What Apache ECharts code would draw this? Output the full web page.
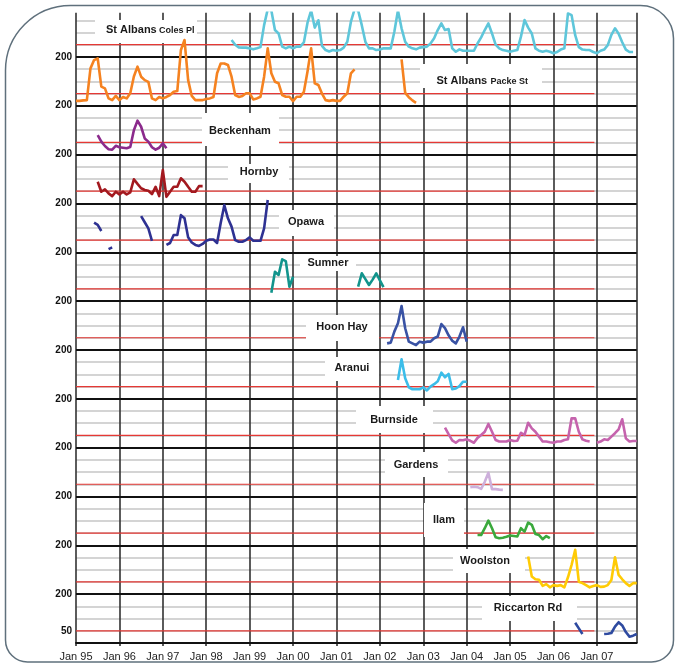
<!DOCTYPE html>
<html><head><meta charset="utf-8">
<script src="https://cdn.jsdelivr.net/npm/echarts@6/dist/echarts.min.js"></script>
<style>html,body{margin:0;padding:0;background:#fff}#c{width:679px;height:667px}</style>
</head><body><div id="c"></div>
<script>
// ---- tick labels ----
const xTickLabels = ['Jan 95','Jan 96','Jan 97','Jan 98','Jan 99','Jan 00','Jan 01','Jan 02','Jan 03','Jan 04','Jan 05','Jan 06','Jan 07'];
const panelTopLabel = '200';
const guideLabel = '50';
const panelMax = 200;
const guideline = 50;
const guidelineEndMonth = 143.3;   // month index (0 = Jan 95) where guideline stops
const lastMonth = 155;

// ---- sites (top to bottom) ----
const siteNames = ['St Albans Coles Pl','St Albans Packe St','Beckenham','Hornby','Opawa','Sumner','Hoon Hay','Aranui','Burnside','Gardens','Ilam','Woolston','Riccarton Rd'];
const siteColors = ['#5ec6da','#f58220','#8b2a8c','#a3191f','#2e3192','#12948c','#3952a4','#3cbde9','#c563ad','#cdb0db','#3aa93c','#ffcb05','#2e4aa0'];

// monthly values; start = month index of first value (0 = Jan 95); null = no data
const colesPlStart = 43;
const colesPl = [69,50,39,38,38,35,31,35,40,130,195,190,110,96,42,35,42,35,42,42,60,140,190,120,150,45,28,22,28,25,28,38,62,144,195,190,130,62,35,35,28,30,35,35,35,103,190,117,62,42,35,31,38,40,42,55,76,110,137,110,114,35,21,31,25,25,25,25,55,80,110,137,96,50,35,28,25,21,25,28,83,151,120,96,35,25,21,25,21,15,20,30,35,178,171,89,40,30,28,28,20,15,25,30,48,90,117,95,60,30,20,20];

const packeStStart = 0;
const packeSt = [20,20,22,23,153,187,194,78,71,30,23,40,23,36,30,51,120,160,119,105,98,30,23,36,30,36,44,57,60,228,269,105,40,23,23,23,28,30,36,133,173,173,167,119,44,36,40,51,51,26,30,37,119,235,133,98,92,44,37,37,19,37,37,57,140,235,92,85,50,23,20,23,20,20,37,51,133,149,
  null,null,null,null,null,null,null,null,null,null,null,null,190,53,35,22,12];

const beckenhamStart = 6;
const beckenham = [80,53,35,22,20,36,30,28,26,31,100,139,114,66,53,30,20,28,46,26];

const hornbyStart = 6;
const hornby = [89,48,58,41,30,48,37,48,37,45,99,80,62,55,52,38,68,30,137,27,48,68,68,103,89,68,48,48,71,71];

const opawaStart = 5;
const opawa = [121,112,87,null,13,20,null,null,null,null,null,null,null,148,123,98,47,null,null,null,30,38,71,71,152,139,61,40,30,26,34,47,52,52,38,120,193,139,105,50,43,43,50,61,47,47,47,98,214];

const sumnerStart = 54;
const sumner = [34,120,107,171,164,59,100,null,null,null,null,null,null,null,null,null,null,null,null,null,null,null,null,null,59,114,90,66,88,114,85,57];

const hoonHayStart = 86;
const hoonHay = [27,30,75,109,180,89,34,27,20,34,30,34,34,48,55,106,89,60,38,27,55,93,34];

const aranuiStart = 89;
const aranui = [77,162,84,47,39,39,39,47,34,50,60,72,107,88,102,39,42,52,70,70];

const burnsideStart = 102;
const burnside = [82,55,30,20,31,30,34,28,20,40,52,65,97,65,31,25,25,25,31,27,28,61,52,102,79,65,45,25,25,22,20,25,25,31,34,120,120,65,34,28,25,null,20,25,34,31,45,59,75,116,38,25,27,27];

const gardensStart = 109;
const gardens = [38,40,38,31,60,97,30,30,28,27];

const ilamStart = 111;
const ilam = [42,42,70,101,70,33,29,31,35,40,38,36,70,56,93,84,46,42,25,38,29];

const woolstonStart = 125;
const woolston = [154,72,61,59,34,41,28,37,34,37,28,69,120,182,51,45,37,28,33,37,30,31,37,58,151,79,61,45,34,45,45];

const riccartonStart = 138;
const riccarton = [83,60,37,null,null,null,null,null,37,38,41,67,85,72,45,26,30,37];

const siteStarts = [colesPlStart,packeStStart,beckenhamStart,hornbyStart,opawaStart,sumnerStart,hoonHayStart,aranuiStart,burnsideStart,gardensStart,ilamStart,woolstonStart,riccartonStart];
const siteValues = [colesPl,packeSt,beckenham,hornby,opawa,sumner,hoonHay,aranui,burnside,gardens,ilam,woolston,riccarton];

// ---- layout (pixels) for the name boxes ----
const nameBoxes = [
  {box:[95,20,102,23], parts:[{t:'St Albans',x:106,y:30,s:11},{t:'Coles Pl',x:159,y:31,s:9}]},
  {box:[420,64,122,24], parts:[{t:'St Albans',x:436.5,y:80.5,s:11},{t:'Packe St',x:490.5,y:81.5,s:9}]},
  {box:[202,113,77,33], c:[240,131]},
  {box:[228,164,61,19], c:[259,172]},
  {box:[279,210,55,26], c:[306,222]},
  {box:[300,256,56,15], c:[328,263]},
  {box:[306,315,73,26], c:[342,327]},
  {box:[325,357,54,24], c:[352,368]},
  {box:[356,406,77,27], c:[394,420]},
  {box:[385,452,63,25], c:[416,465]},
  {box:[424,503,40,34], c:[444,520]},
  {box:[453,549,72,24], c:[485,561]},
  {box:[482,596,95,25], c:[528,608]}
];

const nPanels = siteNames.length;
const FONT = '"Liberation Sans", Arial, sans-serif';

const series = [];
siteNames.forEach((name, p) => {
  const base = (nPanels - 1 - p) * panelMax;
  series.push({
    type: 'line', name: 'guide ' + name, silent: true, symbol: 'none', z: 2,
    lineStyle: {color: '#e53935', width: 1.2}, animation: false,
    data: [[0, base + guideline], [guidelineEndMonth, base + guideline]]
  });
});
siteNames.forEach((name, p) => {
  const base = (nPanels - 1 - p) * panelMax;
  const st = siteStarts[p];
  series.push({
    type: 'line', name: name, symbol: 'none', z: 4, connectNulls: false, clip: true,
    lineStyle: {color: siteColors[p], width: 2.6, join: 'round'},
    itemStyle: {color: siteColors[p]},
    data: siteValues[p].map((v, i) => [st + i, v == null ? '-' : v + base])
  });
});

const graphic = [];
nameBoxes.forEach((b, p) => {
  graphic.push({type: 'rect', z: 3, silent: true,
    shape: {x: b.box[0], y: b.box[1], width: b.box[2], height: b.box[3]},
    style: {fill: '#ffffff'}});
  if (b.parts) {
    b.parts.forEach(pt => graphic.push({type: 'text', z: 5, silent: true,
      style: {text: pt.t, x: pt.x, y: pt.y, font: 'bold ' + pt.s + 'px ' + FONT, fill: '#1a1a1a', textAlign: 'left', textVerticalAlign: 'middle'}}));
  } else {
    graphic.push({type: 'text', z: 5, silent: true,
      style: {text: siteNames[p], x: b.c[0], y: b.c[1], font: 'bold 11px ' + FONT, fill: '#1a1a1a', textAlign: 'center', textVerticalAlign: 'middle'}});
  }
});
graphic.push({type: 'rect', z: 10, silent: true,
  shape: {x: 5.5, y: 5.5, width: 668, height: 656.5, r: [65, 33, 22, 22]},
  style: {fill: 'rgba(0,0,0,0)', stroke: '#5f707c', lineWidth: 1.5}});

const yTop = nPanels * panelMax - 19; // plot top a little below the last panel top

const chart = echarts.init(document.getElementById('c'), null, {renderer: 'canvas'});
chart.setOption({
  animation: false,
  backgroundColor: '#ffffff',
  grid: {left: 76, right: 42.3, top: 12.7, bottom: 24, containLabel: false},
  xAxis: {
    type: 'value', min: 0, max: lastMonth, interval: 12,
    axisLine: {show: true, lineStyle: {color: '#111', width: 2}},
    axisTick: {show: true, length: 3, lineStyle: {color: '#222', width: 1.5}},
    splitLine: {show: true, lineStyle: {color: '#333', width: 1.6}},
    axisLabel: {margin: 8, color: '#222', fontSize: 11, fontFamily: FONT, showMaxLabel: false,
      formatter: v => (v % 12 === 0 ? (xTickLabels[v / 12] || '') : '')}
  },
  yAxis: [{
    type: 'value', min: 0, max: yTop, interval: 50, position: 'left', z: 0,
    axisLine: {show: false}, axisTick: {show: false},
    splitLine: {show: true, showMaxLine: false, lineStyle: {color: '#c6c6c6', width: 1.5}},
    axisLabel: {margin: 4, color: '#111', fontSize: 10, fontWeight: 'bold', fontFamily: FONT,
      formatter: v => {
        if (v === guideline) return guideLabel;
        if (v % panelMax === 0 && v > 0 && v < nPanels * panelMax) return panelTopLabel;
        return '';
      }}
  }, {
    type: 'value', min: 0, max: yTop, interval: panelMax, position: 'left', z: 1,
    axisLine: {show: false}, axisTick: {show: false}, axisLabel: {show: false},
    splitLine: {show: true, showMaxLine: false, lineStyle: {color: '#111', width: 2}}
  }],
  series: series,
  graphic: graphic
});
</script></body></html>
